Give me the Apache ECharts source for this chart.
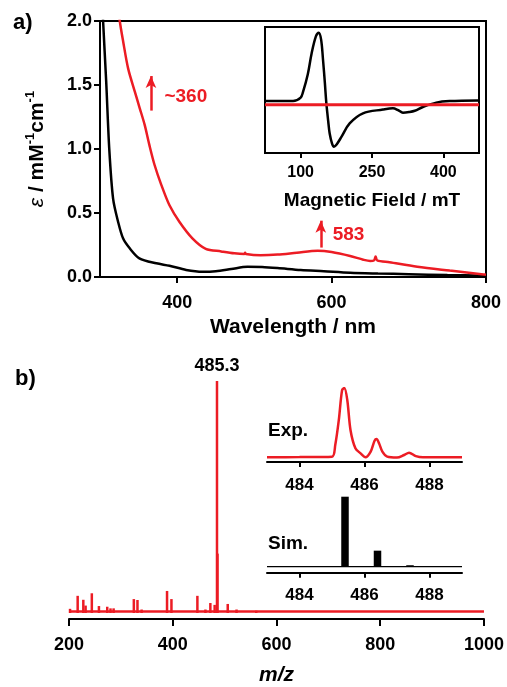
<!DOCTYPE html>
<html><head><meta charset="utf-8">
<script src="https://cdn.jsdelivr.net/npm/echarts@6/dist/echarts.min.js"></script>
<style>html,body{margin:0;padding:0;background:#fff}#c{width:507px;height:687px}</style>
</head><body><div id="c"></div>
<script>
const FONT = '"Liberation Sans", Arial, Helvetica, sans-serif';
const RED = '#ec1c24';

// ---- a) UV-vis ----
const uvBlackWl  = [302, 304, 308, 312, 317, 323.5, 330, 338.5, 351, 373, 390, 411.6, 433, 450, 470, 491, 510, 530, 560, 590, 624, 660, 700, 750, 800];
const uvBlackEps = [2.3, 2.0, 1.53, 1.0, 0.61, 0.43, 0.30, 0.224, 0.146, 0.107, 0.088, 0.055, 0.041, 0.045, 0.062, 0.08, 0.078, 0.07, 0.055, 0.045, 0.033, 0.027, 0.022, 0.015, 0.01];
const uvRedWl  = [323, 325.6, 330, 336.4, 345, 351.4, 357.8, 364, 370.7, 379.4, 390, 403, 420, 437, 457, 474, 487, 488, 489, 508, 530, 555, 582, 600, 624, 641, 650, 655, 657, 659, 675, 711, 753, 797, 800];
const uvRedEps = [2.15, 2.0, 1.84, 1.63, 1.45, 1.32, 1.19, 1.03, 0.875, 0.72, 0.56, 0.43, 0.30, 0.22, 0.20, 0.185, 0.18, 0.19, 0.18, 0.17, 0.175, 0.19, 0.205, 0.195, 0.164, 0.135, 0.125, 0.13, 0.16, 0.13, 0.115, 0.08, 0.05, 0.02, 0.018];
const uvTicks = [400, 600, 800];

// ---- a) inset EPR ----
const eprField = [25, 84, 100, 105, 115, 123, 132, 138, 143, 147, 151, 154, 158, 161, 166, 170, 176, 186, 203, 231, 273, 294, 305, 315, 328, 340, 357, 385, 413, 473];
const eprBlack = [-0.175, -0.175, -0.12, -0.03, 0.25, 0.58, 0.85, 0.91, 0.8, 0.48, 0.1, -0.21, -0.5, -0.69, -0.85, -0.9, -0.86, -0.74, -0.53, -0.37, -0.31, -0.29, -0.32, -0.36, -0.35, -0.33, -0.27, -0.2, -0.175, -0.165];
const eprRedField = [25, 475];
const eprRed = [-0.233, -0.233];
const eprTicks = [100, 250, 400];

// ---- b) mass spectrum ----
const msMz  = [202, 216.7, 227.6, 232, 244, 257.7, 273.7, 280, 286, 325, 332, 340, 389, 397.5, 447.5, 463, 472.5, 480.8, 485.3, 486.3, 506, 523, 561];
const msInt = [1.8, 7.4, 5.7, 3.2, 8.5, 3.0, 2.7, 2.0, 2.0, 6.0, 5.6, 1.5, 9.5, 6.0, 7.4, 1.5, 4.3, 3.5, 100, 25.6, 3.9, 1.5, 1.0];
const msBaseMz = [200, 1000];
const msBaseInt = [0.6, 0.6];
const msTicks = [200, 400, 600, 800, 1000];

// ---- b) insets ----
const expMz  = [483.0, 484.0, 485.0, 485.1, 485.21, 485.31, 485.38, 485.47, 485.57, 485.72, 485.88, 486.03, 486.19, 486.31, 486.37, 486.45, 486.55, 486.7, 487.0, 487.22, 487.37, 487.58, 487.8, 489.0];
const expInt = [6.4, 6.6, 7.2, 23, 56.8, 97, 100, 83.8, 43, 18.5, 11.7, 6.4, 14, 28.8, 31, 25, 14, 7.2, 6.0, 9.5, 12.6, 8.0, 6.4, 6.4];
const simMz  = [485.4, 486.4, 487.4];
const simInt = [100, 22.9, 2.1];
const simBaseMz = [483, 489];
const simBaseInt = [0, 0];
const insetTicks = [484, 486, 488];

const zip = (a, b) => a.map((v, i) => [v, b[i]]);

const lbl = (size, extra) => Object.assign({ color: '#000', fontSize: size, fontWeight: 'bold', fontFamily: FONT }, extra || {});
const axLine = { show: true, onZero: false, lineStyle: { color: '#000', width: 2 } };

const chart = echarts.init(document.getElementById('c'));
chart.setOption({
  animation: false,
  textStyle: { fontFamily: FONT },
  grid: [
    { left: 100, top: 21, width: 386, height: 256, show: true, borderColor: '#000', borderWidth: 2, backgroundColor: 'transparent' },
    { left: 265, top: 27, width: 214, height: 126, show: true, borderColor: '#000', borderWidth: 2, backgroundColor: '#fff', z: 5 },
    { left: 69, top: 381, width: 417, height: 236.5 },
    { left: 267, top: 388, width: 195, height: 74 },
    { left: 267, top: 496.7, width: 195, height: 70 }
  ],
  xAxis: [
    { gridIndex: 0, type: 'value', min: 300, max: 800, axisLine: axLine,
      axisTick: { show: true, customValues: uvTicks, length: 6, lineStyle: { width: 2, color: '#000' } },
      axisLabel: Object.assign(lbl(18), { customValues: uvTicks, margin: 17 }),
      splitLine: { show: false },
      name: 'Wavelength / nm', nameLocation: 'middle', nameGap: 40, nameTextStyle: lbl(21) },
    { gridIndex: 1, type: 'value', min: 25, max: 475, axisLine: axLine, z: 6,
      axisTick: { show: true, customValues: eprTicks, length: 5, lineStyle: { width: 2, color: '#000' } },
      axisLabel: Object.assign(lbl(16), { customValues: eprTicks, margin: 12 }),
      splitLine: { show: false },
      name: 'Magnetic Field / mT', nameLocation: 'middle', nameGap: 38, nameTextStyle: lbl(19) },
    { gridIndex: 2, type: 'value', min: 200, max: 1000, offset: 6, axisLine: axLine,
      axisTick: { show: true, customValues: msTicks, length: 7, lineStyle: { width: 2, color: '#000' } },
      axisLabel: Object.assign(lbl(18), { customValues: msTicks, margin: 17, formatter: v => String(v) }),
      splitLine: { show: false },
      name: 'm/z', nameLocation: 'middle', nameGap: 46, nameTextStyle: lbl(21, { fontStyle: 'italic' }) },
    { gridIndex: 3, type: 'value', min: 483, max: 489, axisLine: axLine,
      axisTick: { show: true, customValues: insetTicks, length: 5, lineStyle: { width: 2, color: '#000' } },
      axisLabel: Object.assign(lbl(17), { customValues: insetTicks, margin: 15 }),
      splitLine: { show: false } },
    { gridIndex: 4, type: 'value', min: 483, max: 489, offset: 6, axisLine: axLine,
      axisTick: { show: true, customValues: insetTicks, length: 5, lineStyle: { width: 2, color: '#000' } },
      axisLabel: Object.assign(lbl(17), { customValues: insetTicks, margin: 14 }),
      splitLine: { show: false } }
  ],
  yAxis: [
    { gridIndex: 0, type: 'value', min: 0, max: 2, interval: 0.5, axisLine: axLine,
      axisTick: { show: true, length: 6, lineStyle: { width: 2, color: '#000' } },
      axisLabel: Object.assign(lbl(18), { margin: 8, formatter: v => v.toFixed(1) }),
      splitLine: { show: false },
      name: '{e|ε} / mM{s|-1}cm{s|-1}', nameLocation: 'middle', nameRotate: 90, nameGap: 50,
      nameTextStyle: lbl(21, { lineHeight: 26, rich: {
        e: { fontSize: 21, fontStyle: 'italic', fontWeight: 'normal', fontFamily: FONT, color: '#000', lineHeight: 26 },
        s: { fontSize: 13, fontWeight: 'bold', fontFamily: FONT, color: '#000', verticalAlign: 'top', lineHeight: 26 }
      } }) },
    { gridIndex: 1, type: 'value', min: -1, max: 1, show: false },
    { gridIndex: 2, type: 'value', min: 0, max: 100, show: false },
    { gridIndex: 3, type: 'value', min: 0, max: 100, show: false },
    { gridIndex: 4, type: 'value', min: 0, max: 100, show: false }
  ],
  series: [
    { type: 'line', xAxisIndex: 0, yAxisIndex: 0, data: zip(uvBlackWl, uvBlackEps), smooth: 0.3, showSymbol: false,
      lineStyle: { color: '#000', width: 2.5 }, clip: true },
    { type: 'line', xAxisIndex: 0, yAxisIndex: 0, data: zip(uvRedWl, uvRedEps), smooth: 0.3, showSymbol: false,
      lineStyle: { color: RED, width: 2.5 }, clip: true,
      markLine: { silent: true, symbol: ['none', 'arrow'], symbolSize: [8, 12],
        lineStyle: { color: RED, width: 2.5, type: 'solid' }, label: { show: false },
        data: [
          [{ coord: [366, 1.30] }, { coord: [366, 1.57] }],
          [{ coord: [586, 0.23] }, { coord: [586, 0.44] }]
        ] },
      markPoint: { silent: true, symbol: 'circle', symbolSize: 0,
        label: lbl(19, { color: RED, position: 'right', distance: 5 }),
        data: [
          { coord: [377, 1.41], label: { formatter: '~360' } },
          { coord: [595, 0.33], label: { formatter: '583' } }
        ] } },
    { type: 'line', xAxisIndex: 1, yAxisIndex: 1, data: zip(eprField, eprBlack), smooth: 0.35, showSymbol: false,
      lineStyle: { color: '#000', width: 2.5 }, z: 6 },
    { type: 'line', xAxisIndex: 1, yAxisIndex: 1, data: zip(eprRedField, eprRed), showSymbol: false,
      lineStyle: { color: RED, width: 3 }, z: 7 },
    { type: 'line', xAxisIndex: 2, yAxisIndex: 2, data: zip(msBaseMz, msBaseInt), showSymbol: false,
      lineStyle: { color: RED, width: 2.5 } },
    { type: 'bar', xAxisIndex: 2, yAxisIndex: 2, data: zip(msMz, msInt), barWidth: 2.5,
      itemStyle: { color: RED },
      markPoint: { silent: true, symbol: 'circle', symbolSize: 0,
        label: lbl(18, { position: 'top', distance: 6 }),
        data: [{ coord: [485.3, 100], label: { formatter: '485.3' } }] } },
    { type: 'line', xAxisIndex: 3, yAxisIndex: 3, data: zip(expMz, expInt), smooth: 0.3, showSymbol: false,
      lineStyle: { color: RED, width: 2.5 } },
    { type: 'line', xAxisIndex: 4, yAxisIndex: 4, data: zip(simBaseMz, simBaseInt), showSymbol: false,
      lineStyle: { color: '#000', width: 1.5 } },
    { type: 'bar', xAxisIndex: 4, yAxisIndex: 4, data: zip(simMz, simInt), barWidth: 7.5,
      itemStyle: { color: '#000' } }
  ],
  graphic: [
    { type: 'text', left: 13, top: 12, style: { text: 'a)', font: 'bold 22px ' + FONT, fill: '#000' } },
    { type: 'text', left: 15, top: 368, style: { text: 'b)', font: 'bold 22px ' + FONT, fill: '#000' } },
    { type: 'text', left: 268, top: 421, style: { text: 'Exp.', font: 'bold 19px ' + FONT, fill: '#000' } },
    { type: 'text', left: 268, top: 534, style: { text: 'Sim.', font: 'bold 19px ' + FONT, fill: '#000' } }
  ]
});
</script></body></html>
